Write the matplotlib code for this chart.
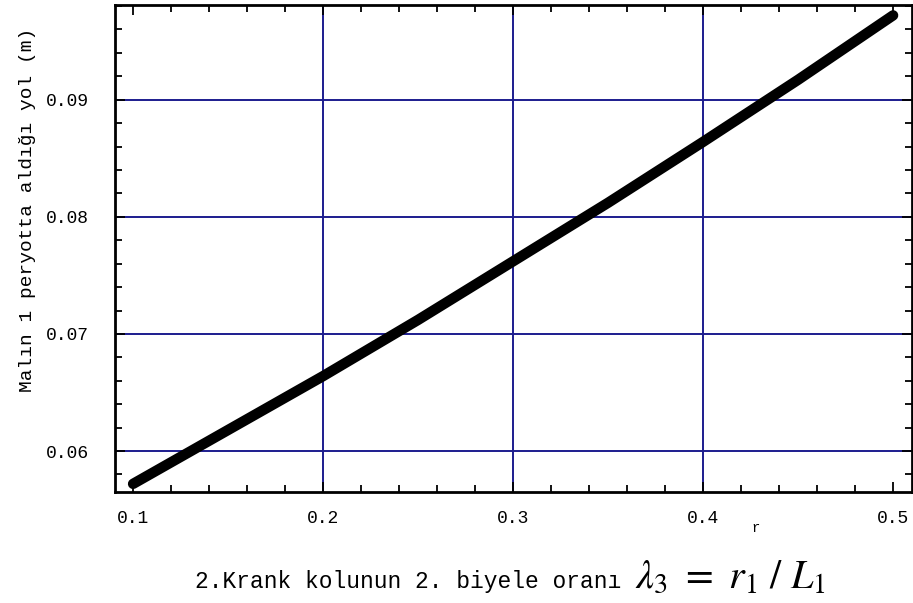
import matplotlib
matplotlib.use('Agg')
import matplotlib.pyplot as plt
from matplotlib.ticker import MultipleLocator, FormatStrFormatter

plt.rcParams['mathtext.fontset'] = 'stix'
MONO = 'Liberation Mono'

# biyel oranı ve malın bir periyotta aldığı yol (m)
lam = [0.10, 0.15, 0.20, 0.25, 0.30, 0.35, 0.40, 0.45, 0.50]
yol = [0.0572, 0.0618, 0.0664, 0.0712, 0.0762, 0.0812, 0.0864, 0.0917, 0.0972]

x_grid = [0.2, 0.3, 0.4]
y_grid = [0.06, 0.07, 0.08, 0.09]
x_ticks = [0.1, 0.2, 0.3, 0.4, 0.5]
y_ticks = [0.06, 0.07, 0.08, 0.09]

fig = plt.figure(figsize=(9.13, 6.03), dpi=100)
ax = fig.add_axes([0.126, 0.184, 0.873, 0.808])

grid_color = '#1c1c8e'
for gx in x_grid:
    ax.axvline(gx, color=grid_color, lw=1.4, zorder=1)
for gy in y_grid:
    ax.axhline(gy, color=grid_color, lw=1.4, zorder=1)

ax.plot(lam, yol, color='black', lw=7.5, solid_capstyle='round', zorder=3)

ax.set_xlim(0.0905, 0.510)
ax.set_ylim(0.0565, 0.0981)

ax.set_xticks(x_ticks)
ax.set_yticks(y_ticks)
ax.xaxis.set_minor_locator(MultipleLocator(0.02))
ax.yaxis.set_minor_locator(MultipleLocator(0.002))
ax.xaxis.set_major_formatter(FormatStrFormatter('%.1f'))
ax.yaxis.set_major_formatter(FormatStrFormatter('%.2f'))

ax.tick_params(which='both', direction='in', top=True, right=True,
               color='black', width=1.3)
ax.tick_params(which='major', length=7)
ax.tick_params(which='minor', length=5)
ax.tick_params(axis='x', which='major', pad=13)
ax.tick_params(axis='y', which='major', pad=19)
for lbl in ax.get_xticklabels() + ax.get_yticklabels():
    lbl.set_fontfamily(MONO)
    lbl.set_fontsize(13)

for sp in ax.spines.values():
    sp.set_linewidth(2)
    sp.set_color('black')

fig.text(28 / 913, 1 - 210 / 603, 'Malın 1 peryotta aldığı yol (m)',
         rotation=90, ha='center', va='center', family=MONO, fontsize=14)

# eksen altında kırpılmış r etiketi
fig.text(756 / 913, 1 - 528 / 603, 'r', ha='center', va='center',
         family=MONO, fontsize=10)

fig.text(195 / 913, 1 - 588 / 603, '2.Krank kolunun 2. biyele oranı',
         ha='left', va='baseline', family=MONO, fontsize=16.5)
fig.text(635 / 913, 1 - 588 / 603, r'$\lambda_{3}\ =\ r_{1}\ /\ L_{1}$',
         ha='left', va='baseline', fontsize=29)

fig.savefig('out.png', dpi=100)
